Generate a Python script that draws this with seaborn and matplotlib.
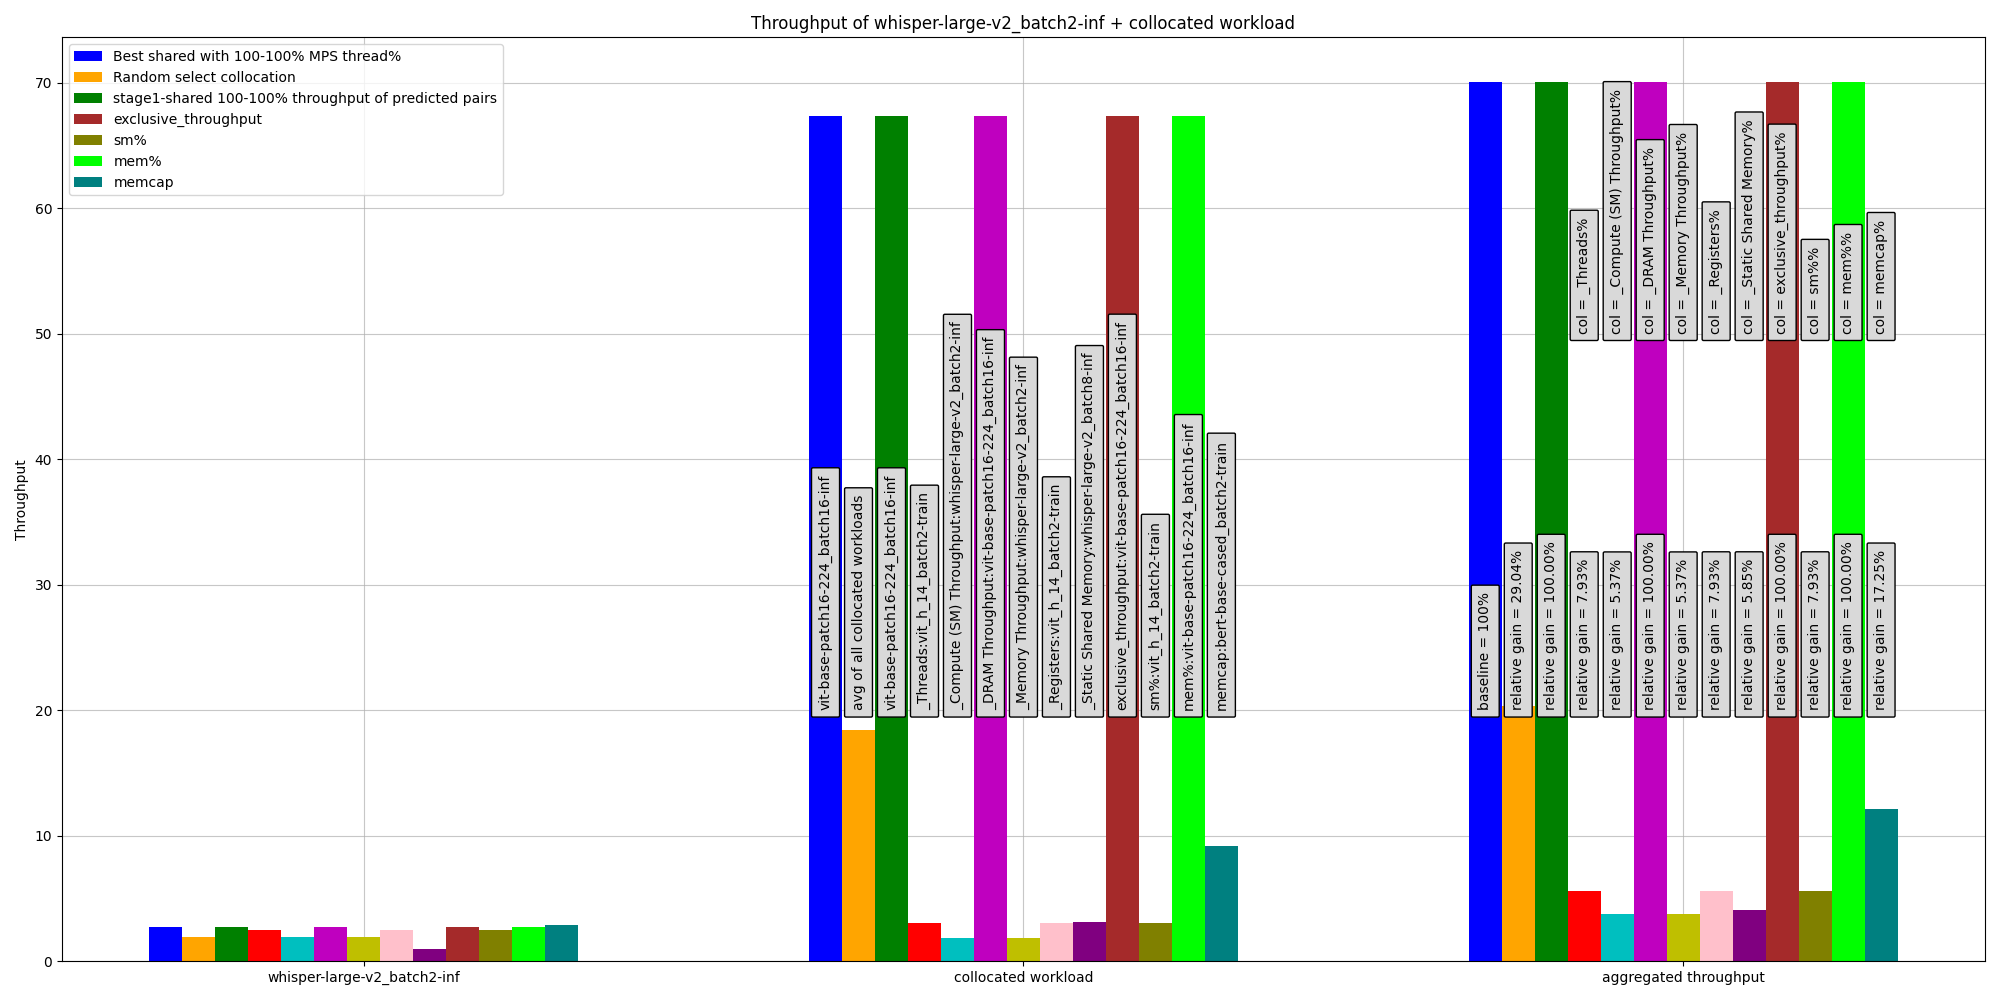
import pandas as pd
import matplotlib.pyplot as plt
import seaborn as sns

groups = ["whisper-large-v2_batch2-inf", "collocated workload", "aggregated throughput"]

series = ["Best shared with 100-100% MPS thread%", "Random select collocation",
          "stage1-shared 100-100% throughput of predicted pairs", "_Threads",
          "_Compute (SM) Throughput", "_DRAM Throughput", "_Memory Throughput",
          "_Registers", "_Static Shared Memory", "exclusive_throughput",
          "sm%", "mem%", "memcap"]
colors = ['blue', 'orange', 'green', 'red', 'c', 'm', 'y', 'pink', 'purple',
          'brown', 'olive', 'lime', 'teal']
legend_idx = [0, 1, 2, 9, 10, 11, 12]

whisper_vals = [2.74, 1.94, 2.74, 2.50, 1.90, 2.74, 1.90, 2.50, 0.97, 2.74, 2.50, 2.74, 2.90]
colloc_vals = [67.33, 18.41, 67.33, 3.06, 1.86, 67.33, 1.86, 3.06, 3.13, 67.33, 3.06, 67.33, 9.19]
agg_vals = [70.07, 20.35, 70.07, 5.56, 3.76, 70.07, 3.76, 5.56, 4.10, 70.07, 5.56, 70.07, 12.09]

colloc_labels = ["vit-base-patch16-224_batch16-inf", "avg of all collocated workloads",
                 "vit-base-patch16-224_batch16-inf", "_Threads:vit_h_14_batch2-train",
                 "_Compute (SM) Throughput:whisper-large-v2_batch2-inf",
                 "_DRAM Throughput:vit-base-patch16-224_batch16-inf",
                 "_Memory Throughput:whisper-large-v2_batch2-inf",
                 "_Registers:vit_h_14_batch2-train",
                 "_Static Shared Memory:whisper-large-v2_batch8-inf",
                 "exclusive_throughput:vit-base-patch16-224_batch16-inf",
                 "sm%:vit_h_14_batch2-train", "mem%:vit-base-patch16-224_batch16-inf",
                 "memcap:bert-base-cased_batch2-train"]
gain_labels = ["baseline = 100%", "relative gain = 29.04%", "relative gain = 100.00%",
               "relative gain = 7.93%", "relative gain = 5.37%", "relative gain = 100.00%",
               "relative gain = 5.37%", "relative gain = 7.93%", "relative gain = 5.85%",
               "relative gain = 100.00%", "relative gain = 7.93%", "relative gain = 100.00%",
               "relative gain = 17.25%"]
col_labels = ["col = _Threads%", "col = _Compute (SM) Throughput%", "col = _DRAM Throughput%",
              "col = _Memory Throughput%", "col = _Registers%", "col = _Static Shared Memory%",
              "col = exclusive_throughput%", "col = sm%%", "col = mem%%", "col = memcap%"]

rows = []
for g, vals in zip(groups, [whisper_vals, colloc_vals, agg_vals]):
    for s, v in zip(series, vals):
        rows.append({"group": g, "series": s, "throughput": v})
df = pd.DataFrame(rows)

fig, ax = plt.subplots(figsize=(20, 10), dpi=100)
sns.barplot(data=df, x="group", y="throughput", hue="series", order=groups,
            hue_order=series, palette=colors, saturation=1, width=0.65,
            errorbar=None, linewidth=0, legend=False, ax=ax)

nbars = len(series)
bw = 0.65 / nbars
box = dict(boxstyle='round,pad=0.5,rounding_size=0.1', facecolor='#d9d9d9', edgecolor='black')
for j in range(nbars):
    x = 1 + (j - (nbars - 1) / 2) * bw
    ax.text(x, 20, colloc_labels[j], rotation=90, ha='center', va='bottom', fontsize=10, bbox=box)
    x3 = 2 + (j - (nbars - 1) / 2) * bw
    ax.text(x3, 20, gain_labels[j], rotation=90, ha='center', va='bottom', fontsize=10, bbox=box)
    if j >= 3:
        ax.text(x3, 50, col_labels[j - 3], rotation=90, ha='center', va='bottom', fontsize=10, bbox=box)

handles = [ax.containers[i].patches[0] for i in legend_idx]
ax.legend(handles, [series[i] for i in legend_idx], loc='upper left', fontsize=10)

ax.set_xlim(-0.4575, 2.4575)
ax.set_ylim(0, 73.6)
ax.set_title("Throughput of whisper-large-v2_batch2-inf + collocated workload")
ax.set_xlabel("")
ax.set_ylabel("Throughput")
ax.grid(True, alpha=0.7)
ax.set_axisbelow(True)

plt.tight_layout()
plt.savefig("out.png")
